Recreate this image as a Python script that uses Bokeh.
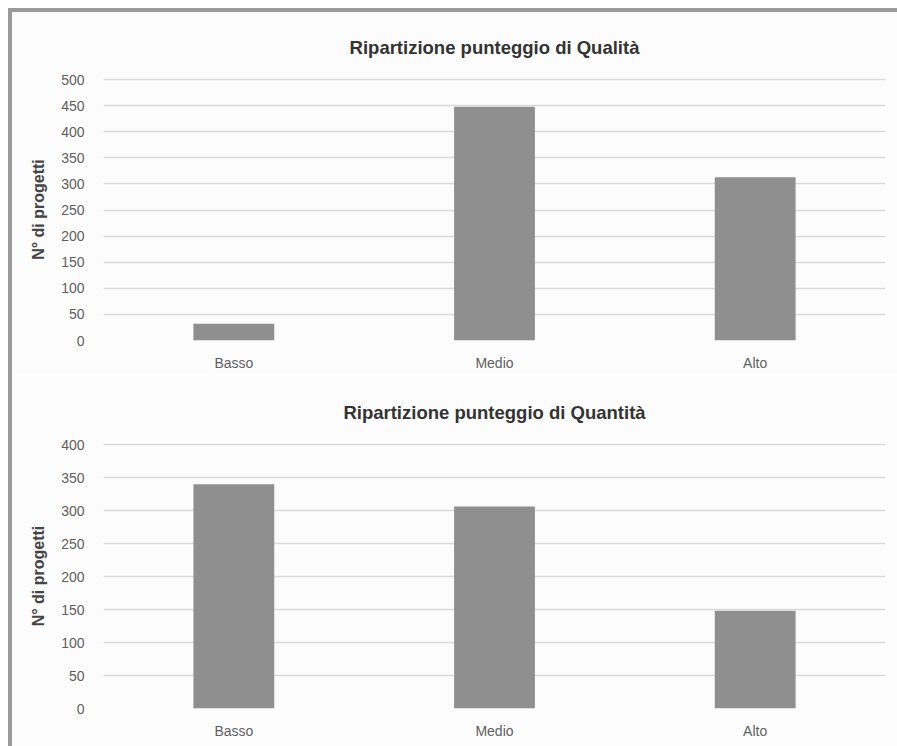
from bokeh.plotting import figure
from bokeh.layouts import column
from bokeh.models import ColumnDataSource, Range1d, FactorRange, SingleIntervalTicker
from bokeh.embed import file_html
from bokeh.resources import INLINE

categories = ["Basso", "Medio", "Alto"]
qualita = [32, 448, 313]
quantita = [340, 306, 148]
title_qualita = "Ripartizione punteggio di Qualità"
title_quantita = "Ripartizione punteggio di Quantità"
y_label = "N° di progetti"

FONT = "Liberation Sans"
BG = "#fcfcfc"


def make(title, values, ymax, height, top, bottom):
    src = ColumnDataSource(dict(cat=categories, val=values))
    p = figure(x_range=FactorRange(*categories), y_range=Range1d(0, ymax * 1.004),
               width=885, height=height, output_backend="svg", toolbar_location=None,
               min_border_left=91, min_border_right=12, min_border_top=top,
               min_border_bottom=bottom, background_fill_color=BG, border_fill_color=BG,
               outline_line_color=None, title=title)
    p.vbar(x="cat", top="val", width=0.31, source=src, fill_color="#8f8f8f", line_color=None)
    p.title.align = "center"
    p.title.vertical_align = "middle"
    p.title.text_font = FONT
    p.title.text_font_size = "18.5px"
    p.title.text_font_style = "bold"
    p.title.text_color = "#333333"
    p.title.standoff = 40
    p.xgrid.grid_line_color = None
    p.ygrid.grid_line_color = "#d9d9d9"
    p.ygrid.grid_line_width = 1.5
    p.yaxis.ticker = SingleIntervalTicker(interval=50)
    for ax in (p.xaxis[0], p.yaxis[0]):
        ax.axis_line_color = None
        ax.major_tick_line_color = None
        ax.minor_tick_line_color = None
        ax.major_label_text_font = FONT
        ax.major_label_text_font_size = "14px"
        ax.major_label_text_color = "#5f5f5f"
    p.yaxis.major_label_standoff = 13
    p.xaxis.major_label_standoff = 8
    p.yaxis.axis_label = y_label
    p.yaxis.axis_label_text_font = FONT
    p.yaxis.axis_label_text_font_size = "16px"
    p.yaxis.axis_label_text_font_style = "bold"
    p.yaxis.axis_label_text_color = "#444444"
    p.yaxis.axis_label_standoff = 11
    return p


p1 = make(title_qualita, qualita, 500, 363, 66, 35)
p2 = make(title_quantita, quantita, 400, 371, 68, 38)

layout = column(p1, p2, spacing=0,
                styles={"border-top": "4px solid #9a9a9a", "border-left": "4px solid #9a9a9a",
                        "margin-left": "8px", "margin-top": "8px"})

open("out.html", "w").write(file_html(layout, INLINE))
